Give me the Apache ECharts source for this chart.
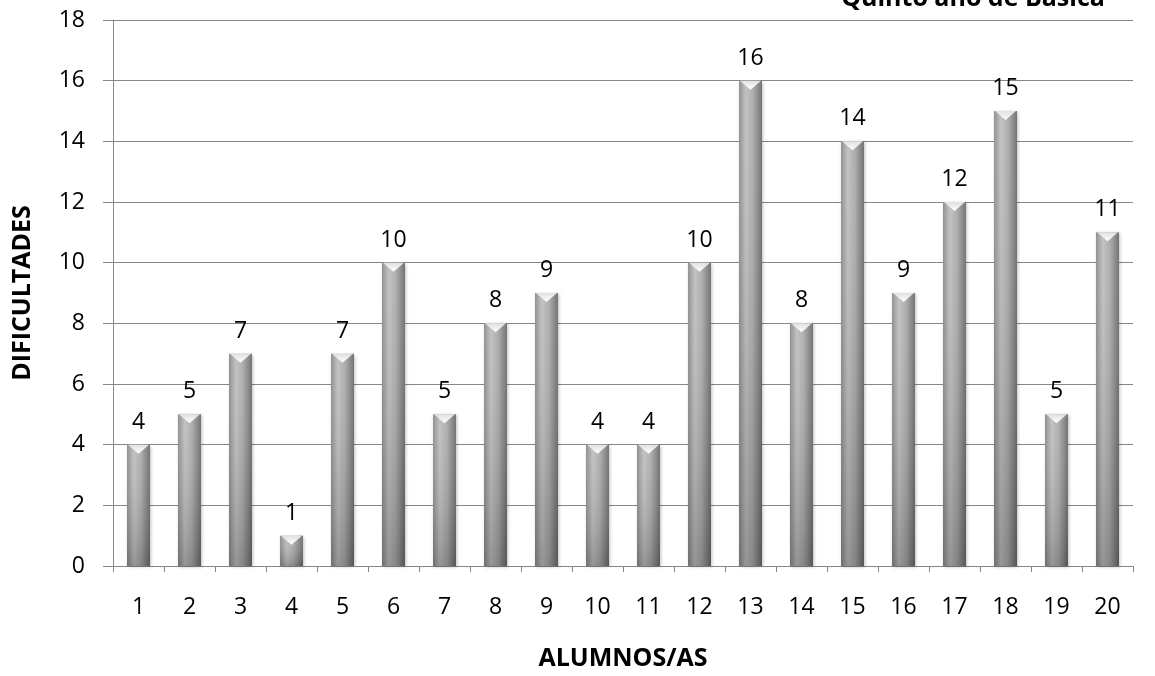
<!DOCTYPE html>
<html>
<head>
<meta charset="utf-8">
<script src="https://cdn.jsdelivr.net/npm/echarts@6/dist/echarts.min.js"></script>
<style>html,body{margin:0;padding:0;background:#fff}#c{width:1155px;height:676px}</style>
</head>
<body>
<div id="c"></div>
<script>
const categories = ['1','2','3','4','5','6','7','8','9','10','11','12','13','14','15','16','17','18','19','20'];
const dificultades = [4,5,7,1,7,10,5,8,9,4,4,10,16,8,14,9,12,15,5,11];
const yTicks = {min: 0, max: 18, interval: 2};
const titleText = 'Quinto año de Básica';
const xName = 'ALUMNOS/AS';
const yName = 'DIFICULTADES';

const FONT = '"Open Sans", "Noto Sans", sans-serif';
const NUM = 23, BOLD = 25;
const chart = echarts.init(document.getElementById('c'));
chart.setOption({
  animation: false,
  backgroundColor: '#fff',
  graphic: [{
    type: 'text', x: 973, y: -1,
    style: {text: titleText, font: 'bold ' + BOLD + 'px ' + FONT, fill: '#000', textAlign: 'center', textVerticalAlign: 'middle'}
  }],
  grid: {left: 113, right: 22, top: 20, bottom: 110},
  xAxis: {
    type: 'category', data: categories,
    name: xName, nameLocation: 'middle', nameGap: 80,
    nameTextStyle: {fontFamily: FONT, fontWeight: 'bold', fontSize: BOLD, color: '#000'},
    axisLine: {lineStyle: {color: '#868686', width: 1}},
    axisTick: {show: true, length: 6, lineStyle: {color: '#868686'}},
    axisLabel: {margin: 30, fontFamily: FONT, fontSize: NUM, color: '#000'}
  },
  yAxis: {
    type: 'value', min: yTicks.min, max: yTicks.max, interval: yTicks.interval,
    name: yName, nameLocation: 'middle', nameGap: 78,
    nameTextStyle: {fontFamily: FONT, fontWeight: 'bold', fontSize: BOLD, color: '#000'},
    axisLine: {show: true, lineStyle: {color: '#868686', width: 1}},
    axisTick: {show: true, length: 10, lineStyle: {color: '#868686'}},
    axisLabel: {margin: 28, fontFamily: FONT, fontSize: NUM, color: '#000'},
    splitLine: {lineStyle: {color: '#868686', width: 1}}
  },
  series: [{
    type: 'bar', data: dificultades, barWidth: 23, barGap: '-100%',
    itemStyle: {
      color: new echarts.graphic.LinearGradient(0, 0, 1, 0, [
        {offset: 0, color: '#8c8c8c'},
        {offset: 0.3, color: '#c0c0c0'},
        {offset: 0.6, color: '#ababab'},
        {offset: 1, color: '#6c6c6c'}
      ]),
      shadowColor: 'rgba(0,0,0,0.25)', shadowBlur: 3, shadowOffsetX: 1, shadowOffsetY: 1
    },
    label: {show: true, position: 'top', distance: 11, fontFamily: FONT, fontSize: NUM, color: '#000'}
  }, {
    type: 'bar', data: dificultades, barWidth: 23, barGap: '-100%', z: 2,
    itemStyle: {
      color: new echarts.graphic.LinearGradient(0, 0, 0, 1, [
        {offset: 0, color: 'rgba(255,255,255,0.05)'},
        {offset: 1, color: 'rgba(0,0,0,0.22)'}
      ])
    },
    label: {show: false}
  }, {
    type: 'pictorialBar', data: dificultades, symbol: 'triangle', symbolRotate: 180,
    symbolSize: [21, 9], symbolPosition: 'end', z: 3,
    itemStyle: {
      color: new echarts.graphic.LinearGradient(0, 0, 0, 1, [
        {offset: 0, color: '#ffffff'},
        {offset: 1, color: '#e0e0e0'}
      ])
    },
    label: {show: false}
  }]
});
</script>
</body>
</html>
